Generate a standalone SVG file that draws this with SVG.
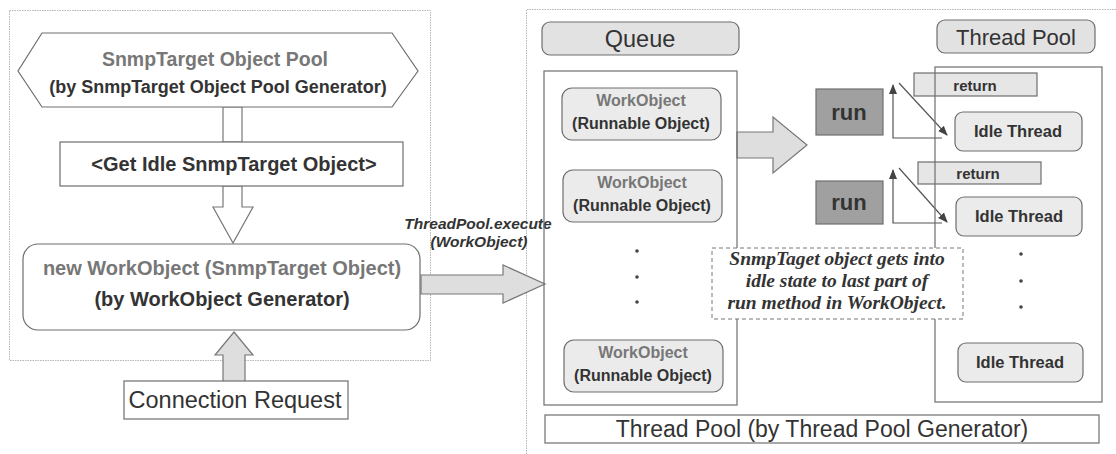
<svg xmlns="http://www.w3.org/2000/svg" width="1116" height="454" viewBox="0 0 1116 454">
<style>
.panel{fill:none;stroke:#b5b5b5;stroke-width:1;stroke-dasharray:1.5 1}
.box{fill:#fff;stroke:#6e6e6e;stroke-width:1.2}
.gbox{fill:#e2e2e2;stroke:#6e6e6e;stroke-width:1.2}
.lbox{fill:#ebebeb;stroke:#6e6e6e;stroke-width:1.2}
.run{fill:#a0a0a0;stroke:#6e6e6e;stroke-width:1.2}
.cont{fill:none;stroke:#6e6e6e;stroke-width:1.2}
.arw{fill:#dedede;stroke:#777;stroke-width:1.2}
.harw{fill:#fff;stroke:#777;stroke-width:1.2}
.ln{fill:none;stroke:#555;stroke-width:1.2}
.t{font-family:"Liberation Sans",Arial,sans-serif;text-anchor:middle;fill:#333}
.b{font-weight:bold}
.g{fill:#777}
.note{font-family:"Liberation Serif","Times New Roman",serif;font-style:italic;font-weight:bold;font-size:19.5px;text-anchor:middle;fill:#333}
</style>
<defs>
<marker id="ah" markerWidth="10" markerHeight="10" refX="9" refY="5" orient="auto" markerUnits="userSpaceOnUse">
<path d="M0,1 L10,5 L0,9 Z" fill="#444"/>
</marker>
</defs>
<rect width="1116" height="454" fill="#fff"/>
<g id="left-panel">
<rect class="panel" x="9.5" y="10.5" width="421" height="350"/>
</g>
<g id="right-panel">
<path d="M526.5,454 V9.5 H1116" class="panel"/>
</g>
<g id="connectors">
<path class="harw" d="M223,107 H242 V142 H223 Z"/>
<path class="harw" d="M223,186 H242 V207 H253 L233,243 L213,207 H223 Z"/>
<path class="arw" d="M223,382 V355 H215 L234,332 L253,355 H245 V382 Z"/>
<path class="arw" d="M421,275 H503 V265 L545,284 L503,303 V294 H421 Z"/>
<path class="arw" d="M737,132 H773 V117 L807,145 L773,173 V158 H737 Z"/>
<path class="ln" d="M942,138 H893 V85" marker-end="url(#ah)"/>
<path class="ln" d="M899,83 L947,135" marker-end="url(#ah)"/>
<path class="ln" d="M942,223 H893 V170" marker-end="url(#ah)"/>
<path class="ln" d="M899,168 L947,222" marker-end="url(#ah)"/>
<text class="t b" x="478" y="229" font-size="15.5" font-style="italic">ThreadPool.execute</text>
<text class="t b" x="479" y="247" font-size="15.5" font-style="italic">(WorkObject)</text>
</g>
<g id="pool">
<path class="box" d="M42,33 H392 L418,71 L392,107 H42 L18,71 Z"/>
<text class="t b g" x="215" y="66" font-size="19.5">SnmpTarget Object Pool</text>
<text class="t b" x="218" y="93" font-size="18">(by SnmpTarget Object Pool Generator)</text>
</g>
<g id="get-idle">
<rect class="box" x="60" y="142" width="343" height="44"/>
<text class="t b" x="234" y="171" font-size="20">&lt;Get Idle SnmpTarget Object&gt;</text>
</g>
<g id="new-workobject">
<rect class="box" x="23" y="244" width="397" height="86" rx="15"/>
<text class="t b g" x="222" y="275" font-size="20">new WorkObject (SnmpTarget Object)</text>
<text class="t b" x="222" y="306" font-size="20">(by WorkObject Generator)</text>
</g>
<g id="connection-request">
<rect class="box" x="124" y="381" width="224" height="38"/>
<text class="t" x="235" y="408" font-size="23.5">Connection Request</text>
</g>
<g id="queue-label">
<rect class="gbox" x="542" y="22" width="197" height="33" rx="8"/>
<text class="t" x="640" y="47" font-size="23.5">Queue</text>
</g>
<g id="queue">
<rect class="cont" x="544" y="71" width="193" height="334"/>
</g>
<g id="workobject-1">
<rect class="lbox" x="562" y="88" width="159" height="52" rx="10"/>
<text class="t b g" x="641" y="106" font-size="16">WorkObject</text>
<text class="t b" x="641" y="129" font-size="16">(Runnable Object)</text>
</g>
<g id="workobject-2">
<rect class="lbox" x="563" y="170" width="159" height="52" rx="10"/>
<text class="t b g" x="642" y="188" font-size="16">WorkObject</text>
<text class="t b" x="642" y="211" font-size="16">(Runnable Object)</text>
</g>
<g id="queue-dots" fill="#444">
<circle cx="637" cy="251" r="1.8"/>
<circle cx="637" cy="277" r="1.8"/>
<circle cx="637" cy="302" r="1.8"/>
</g>
<g id="workobject-3">
<rect class="lbox" x="564" y="340" width="159" height="52" rx="10"/>
<text class="t b g" x="643" y="358" font-size="16">WorkObject</text>
<text class="t b" x="643" y="381" font-size="16">(Runnable Object)</text>
</g>
<g id="run-1">
<rect class="run" x="816" y="89" width="67" height="46"/>
<text class="t b" x="849" y="120" font-size="22">run</text>
</g>
<g id="run-2">
<rect class="run" x="816" y="181" width="67" height="43"/>
<text class="t b" x="849" y="210" font-size="22">run</text>
</g>
<g id="thread-pool-label">
<rect class="gbox" x="937" y="20" width="158" height="33" rx="8"/>
<text class="t" x="1016" y="45" font-size="22">Thread Pool</text>
</g>
<g id="return-1">
<rect class="gbox" x="914" y="73" width="123" height="23" fill-opacity="0.85"/>
<text class="t b" x="975" y="91" font-size="15">return</text>
</g>
<g id="return-2">
<rect class="gbox" x="918" y="162" width="123" height="22" fill-opacity="0.85"/>
<text class="t b" x="978" y="179" font-size="15">return</text>
</g>
<g id="thread-pool">
<rect class="cont" x="935" y="67" width="167" height="335"/>
</g>
<g id="idle-1">
<rect class="lbox" x="955" y="112" width="127" height="39" rx="8"/>
<text class="t b" x="1018" y="137" font-size="16.5">Idle Thread</text>
</g>
<g id="idle-2">
<rect class="lbox" x="956" y="197" width="126" height="39" rx="8"/>
<text class="t b" x="1019" y="222" font-size="16.5">Idle Thread</text>
</g>
<g id="idle-dots" fill="#444">
<circle cx="1021" cy="254" r="1.8"/>
<circle cx="1021" cy="281" r="1.8"/>
<circle cx="1021" cy="307" r="1.8"/>
</g>
<g id="idle-3">
<rect class="lbox" x="958" y="343" width="125" height="39" rx="8"/>
<text class="t b" x="1020" y="368" font-size="16.5">Idle Thread</text>
</g>
<g id="note">
<rect x="712" y="248" width="251" height="71" fill="#fff" stroke="#777" stroke-width="1" stroke-dasharray="4 3"/>
<text class="note" x="837" y="265">SnmpTaget object gets into</text>
<text class="note" x="837" y="287">idle state to last part of</text>
<text class="note" x="837" y="309">run method in WorkObject.</text>
</g>
<g id="thread-pool-generator">
<rect class="box" x="545" y="415" width="554" height="28"/>
<text class="t" x="822" y="437" font-size="23">Thread Pool (by Thread Pool Generator)</text>
</g>
</svg>
